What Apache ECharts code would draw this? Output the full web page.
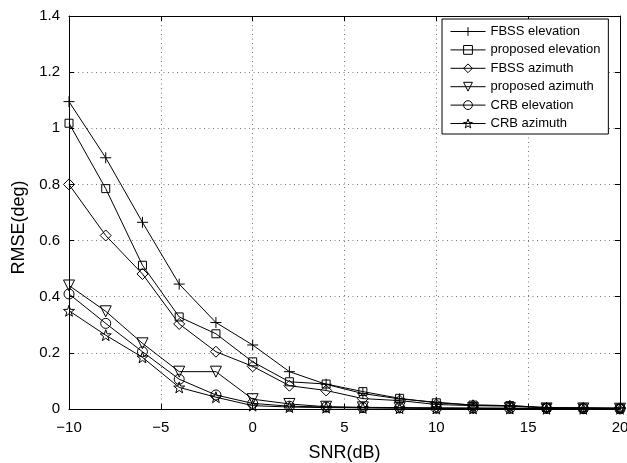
<!DOCTYPE html>
<html>
<head>
<meta charset="utf-8">
<script src="https://cdn.jsdelivr.net/npm/echarts@6/dist/echarts.min.js"></script>
<style>html,body{margin:0;padding:0;background:#fff;}#c{width:627px;height:463px;}</style>
</head>
<body>
<div id="c"></div>
<script>
const snr = [-10,-8,-6,-4,-2,0,2,4,6,8,10,12,14,16,18,20];
const fbssElevation = [1.095,0.895,0.665,0.445,0.308,0.228,0.133,0.088,0.055,0.036,0.024,0.014,0.012,0.005,0.004,0.003];
const proposedElevation = [1.018,0.785,0.512,0.328,0.268,0.168,0.097,0.089,0.062,0.038,0.022,0.014,0.012,0.005,0.004,0.003];
const fbssAzimuth = [0.800,0.618,0.481,0.303,0.204,0.152,0.083,0.066,0.037,0.030,0.016,0.012,0.010,0.004,0.003,0.002];
const proposedAzimuth = [0.440,0.348,0.234,0.133,0.133,0.035,0.018,0.008,0.006,0.005,0.004,0.003,0.003,0.002,0.002,0.001];
const crbElevation = [0.410,0.305,0.204,0.106,0.050,0.020,0.010,0.007,0.005,0.004,0.003,0.003,0.002,0.002,0.001,0.001];
const crbAzimuth = [0.350,0.263,0.184,0.077,0.042,0.012,0.007,0.005,0.004,0.003,0.002,0.002,0.002,0.001,0.001,0.001];
const seriesNames = ['FBSS elevation','proposed elevation','FBSS azimuth','proposed azimuth','CRB elevation','CRB azimuth'];
const xTicks = {min:-10, max:20, interval:5};
const yTicks = {min:0, max:1.4, interval:0.2};

const FONT = '"Liberation Sans", Arial, Helvetica, sans-serif';
const symbols = [
  {s:'path://M0,-10L0,10M-10,0L10,0', size:11},
  {s:'rect', size:8},
  {s:'diamond', size:11},
  {s:'path://M-10,-8.66L10,-8.66L0,8.66Z', size:11},
  {s:'circle', size:10},
  {s:'path://M0,-10L2.35,-3.24L9.51,-3.09L3.8,1.24L5.88,8.09L0,4L-5.88,8.09L-3.8,1.24L-9.51,-3.09L-2.35,-3.24Z', size:11}
];
const dataSets = [fbssElevation, proposedElevation, fbssAzimuth, proposedAzimuth, crbElevation, crbAzimuth];

const series = dataSets.map((d, i) => ({
  name: seriesNames[i],
  type: 'line',
  data: snr.map((x, j) => [x, d[j]]),
  symbol: symbols[i].s,
  symbolSize: symbols[i].size,
  showAllSymbol: true,
  lineStyle: {color:'#000', width:1},
  itemStyle: {color:'rgba(255,255,255,0)', borderColor:'#000', borderWidth:1},
  emphasis: {disabled:true},
  animation: false,
  z: 3
}));

const gridDots = {show:true, lineStyle:{color:'#777', type:[1,3.5], width:1}};
const axisLine = {show:true, onZero:false, lineStyle:{color:'#000', width:1}};
const tick = {show:true, inside:true, length:5, lineStyle:{color:'#000'}};

const chart = echarts.init(document.getElementById('c'), null, {renderer:'canvas'});
chart.setOption({
  backgroundColor:'#fff',
  animation:false,
  grid:{left:69, right:7, top:16, bottom:54, containLabel:false, outerBoundsMode:'none'},
  legend:{
    orient:'vertical', left:442, top:19,
    data: seriesNames,
    backgroundColor:'#fff', borderColor:'#000', borderWidth:1,
    padding:[6,8,4,8],
    itemWidth:35, itemHeight:11, itemGap:5.4,
    itemStyle:{color:'rgba(255,255,255,0)', borderColor:'#000', borderWidth:1},
    lineStyle:{color:'#000', width:1},
    textStyle:{fontFamily:FONT, fontSize:13, color:'#000', lineHeight:12},
    selectedMode:false
  },
  xAxis:[{
    type:'value', min:xTicks.min, max:xTicks.max, interval:xTicks.interval,
    name:'SNR(dB)', nameLocation:'middle', nameGap:35,
    nameTextStyle:{fontFamily:FONT, fontSize:18, color:'#000'},
    axisLine:axisLine, axisTick:tick,
    axisLabel:{fontFamily:FONT, fontSize:15, color:'#000', margin:11,
      formatter:v => String(v).replace('-', '\u2212')},
    splitLine:gridDots
  },{
    type:'value', position:'top', min:xTicks.min, max:xTicks.max, interval:xTicks.interval,
    axisLine:axisLine, axisTick:tick, axisLabel:{show:false}, splitLine:{show:false}
  }],
  yAxis:[{
    type:'value', min:yTicks.min, max:yTicks.max, interval:yTicks.interval,
    name:'RMSE(deg)', nameLocation:'middle', nameGap:38,
    nameTextStyle:{fontFamily:FONT, fontSize:18, color:'#000', padding:[0,30,0,0]},
    axisLine:axisLine, axisTick:tick,
    axisLabel:{fontFamily:FONT, fontSize:15, color:'#000', margin:9,
      formatter:v => String(Math.round(v*10)/10)},
    splitLine:gridDots
  },{
    type:'value', position:'right', min:yTicks.min, max:yTicks.max, interval:yTicks.interval,
    axisLine:axisLine, axisTick:tick, axisLabel:{show:false}, splitLine:{show:false}
  }],
  series: series
});
</script>
</body>
</html>
